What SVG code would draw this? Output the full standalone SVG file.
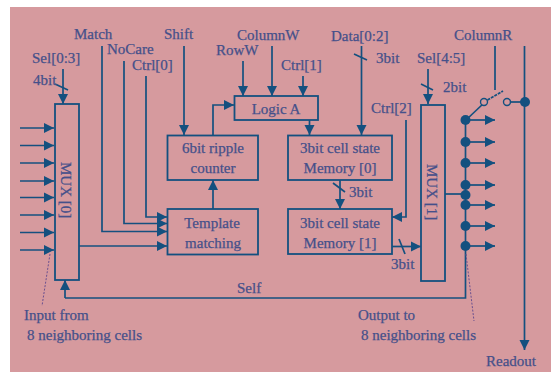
<svg xmlns="http://www.w3.org/2000/svg" width="551" height="372" viewBox="0 0 551 372">
<defs>
<marker id="a" markerUnits="userSpaceOnUse" markerWidth="11" markerHeight="11" refX="10" refY="5.500" orient="auto"><path d="M0 0.500L10 5.500L0 10.500Z" fill="#14507f"/></marker>
</defs>
<style>
.n{fill:none;stroke:#14507f;stroke-width:1.8}
.c{fill:none;stroke:#14507f;stroke-width:1.7}
.ar{marker-end:url(#a)}
.d{fill:#14507f}
.o{fill:#d69a9e;stroke:#14507f;stroke-width:1.4}
.l{fill:none;stroke:#6a4f8f;stroke-width:1;stroke-dasharray:2 1.5}
text{font-family:"Liberation Serif",serif;font-size:15px;fill:#45508a;stroke:#45508a;stroke-width:.25}
</style>
<rect x="10" y="7" width="541" height="365" fill="#d69a9e"/>
<g id="connectors">
<path class="c ar" d="M20 128H54"/><path class="c ar" d="M20 145.500H54"/><path class="c ar" d="M20 163H54"/><path class="c ar" d="M20 181H54"/><path class="c ar" d="M20 197.500H54"/><path class="c ar" d="M20 215H54"/><path class="c ar" d="M20 232.500H54"/><path class="c ar" d="M20 250H54"/>
<path class="c ar" d="M63 69V104"/><path class="c" d="M55 84L68 90"/>
<path class="c ar" d="M102 46V231.500H167"/>
<path class="c ar" d="M124 61V223.500H167"/>
<path class="c ar" d="M146 76V217H167"/>
<path class="c ar" d="M79 246H167"/>
<path class="c ar" d="M184 46V135"/>
<path class="c ar" d="M213 209V180"/>
<path class="c ar" d="M213 135V105H234"/>
<path class="c ar" d="M243 61V96"/>
<path class="c ar" d="M272 46V96"/>
<path class="c ar" d="M303 76V96"/>
<path class="c ar" d="M309.500 120V135"/>
<path class="c ar" d="M361.500 46V135"/><path class="c" d="M354 54L367 60"/>
<path class="c ar" d="M340 180V209"/><path class="c" d="M333 183L345 192"/>
<path class="c ar" d="M406 120V217H392"/>
<path class="c ar" d="M428 69V104"/><path class="c" d="M421 84L433 90"/>
<path class="c ar" d="M392 246.500H421"/><path class="c" d="M399 239L405 254"/>
<path class="c" d="M445 194H466"/>
<path class="c" d="M465.500 120V298H65"/>
<path class="c ar" d="M65 298V280"/>
<path class="c ar" d="M466 120H495"/><path class="c ar" d="M466 142H495"/><path class="c ar" d="M466 163H495"/><path class="c ar" d="M466 185H495"/><path class="c ar" d="M466 205H495"/><path class="c ar" d="M466 226H495"/><path class="c ar" d="M466 246H495"/>
<path class="c" d="M466 120L484 103"/>
<path class="c" d="M495 46V90"/>
<path class="c" style="stroke-dasharray:3 1" d="M484 102L503 91"/>
<path class="c" d="M507 102H525"/>
<path class="c ar" d="M524.500 46V350"/>
<path class="l" d="M50 254L42 306"/>
<path class="l" d="M466 254L474 321"/>
<g class="d"><circle cx="465.500" cy="120" r="5"/><circle cx="465.500" cy="142" r="5"/><circle cx="465.500" cy="163" r="5"/><circle cx="465.500" cy="185" r="5"/><circle cx="465.500" cy="195" r="5"/><circle cx="465.500" cy="205" r="5"/><circle cx="465.500" cy="226" r="5"/><circle cx="465.500" cy="246" r="5"/><circle cx="525" cy="102" r="5"/></g>
<circle class="o" cx="484" cy="102" r="3.500"/><circle class="o" cx="507" cy="102" r="3.500"/>
</g>
<g id="mux0"><rect class="n" x="55" y="104" width="24" height="176"/><text transform="translate(61 162) rotate(90)">MUX [0]</text></g>
<g id="mux1"><rect class="n" x="421" y="105" width="24" height="176"/><text transform="translate(427 164) rotate(90)">MUX [1]</text></g>
<g id="template"><rect class="n" x="167.500" y="209" width="90.500" height="45.500"/><text x="212" y="228" text-anchor="middle">Template</text><text x="213" y="248" text-anchor="middle">matching</text></g>
<g id="counter"><rect class="n" x="167.500" y="135.500" width="90.500" height="44.500"/><text x="213" y="153" text-anchor="middle">6bit ripple</text><text x="213" y="173" text-anchor="middle">counter</text></g>
<g id="logic"><rect class="n" x="234.500" y="96" width="83.500" height="24"/><text x="276" y="114" text-anchor="middle">Logic A</text></g>
<g id="mem0"><rect class="n" x="288" y="135.500" width="104" height="44.500"/><text x="340" y="153" text-anchor="middle">3bit cell state</text><text x="340" y="173" text-anchor="middle">Memory [0]</text></g>
<g id="mem1"><rect class="n" x="288" y="209" width="104" height="45"/><text x="340" y="228" text-anchor="middle">3bit cell state</text><text x="340" y="248" text-anchor="middle">Memory [1]</text></g>
<g id="labels">
<text x="32" y="63">Sel[0:3]</text><text x="33" y="85">4bit</text>
<text x="74" y="39">Match</text><text x="107" y="54">NoCare</text><text x="132" y="70">Ctrl[0]</text>
<text x="164" y="39">Shift</text><text x="216" y="55">RowW</text><text x="237" y="40">ColumnW</text>
<text x="281" y="70">Ctrl[1]</text><text x="331" y="41">Data[0:2]</text><text x="376" y="63">3bit</text>
<text x="417" y="63">Sel[4:5]</text><text x="443" y="92">2bit</text><text x="371" y="113">Ctrl[2]</text>
<text x="454" y="40">ColumnR</text><text x="349" y="197">3bit</text><text x="391" y="269">3bit</text>
<text x="237" y="293">Self</text>
<text x="24" y="320">Input from</text><text x="27" y="340">8 neighboring cells</text>
<text x="358" y="320">Output to</text><text x="361" y="340">8 neighboring cells</text>
<text x="486" y="366">Readout</text>
</g>
</svg>
